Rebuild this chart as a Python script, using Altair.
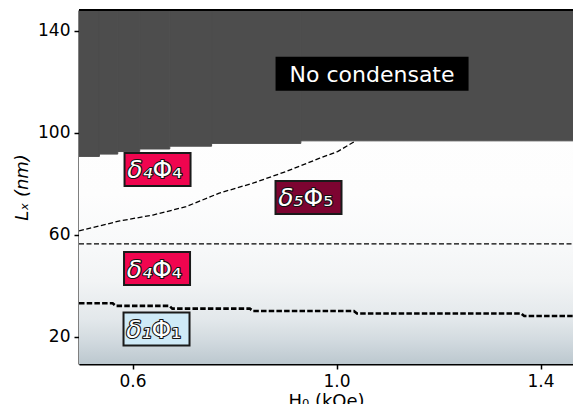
import altair as alt
import pandas as pd

# ---- data ----
x_domain = [0.495, 1.4636]
y_domain = [9.4, 148.2]

# "No condensate" region: step boundary (left edge, right edge, lower L_x)
dark_x0 = [0.495, 0.535, 0.571, 0.614, 0.673, 0.755, 0.930]
dark_x1 = [0.535, 0.571, 0.614, 0.673, 0.755, 0.930, 1.479]
dark_y = [90.8, 91.7, 92.7, 93.7, 94.8, 95.9, 96.9]

# dashed boundary curve (delta4Phi4 / delta5Phi5)
curve_x = [0.495, 0.575, 0.640, 0.705, 0.770, 0.836, 0.900, 0.967, 1.002, 1.035]
curve_y = [61.6, 65.5, 67.8, 71.1, 76.4, 80.3, 84.8, 90.1, 92.7, 96.6]

# horizontal dashed boundary
hline_x = [0.495, 1.479]
hline_y = [56.5, 56.5]

# thick dotted step boundary (delta1Phi1 / delta4Phi4)
step_x = [0.495, 0.561, 0.567, 0.672, 0.678, 0.830, 0.836, 1.034, 1.040, 1.362, 1.368, 1.479]
step_y = [33.2, 33.2, 32.2, 32.2, 31.1, 31.1, 30.2, 30.2, 29.2, 29.2, 28.2, 28.2]

# phase labels (delta part in italic, Phi part upright)
label_delta = ["δ₄", "δ₅", "δ₄", "δ₁"]
label_phi = ["Φ₄", "Φ₅", "Φ₄", "Φ₁"]
label_x = [0.649, 0.945, 0.648, 0.647]
label_y = [85.7, 74.7, 46.8, 23.1]
label_fill = ["#f0054f", "#7d0431", "#f0054f", "#cfeaf7"]

nc_text = ["No condensate"]
nc_x = [1.0696]
nc_y = [123.2]

x_ticks = [0.6, 1.0, 1.4]
y_ticks = [20, 60, 100, 140]

# ---- tables ----
bg_df = pd.DataFrame({"x": [x_domain[0]], "x2": [x_domain[1]], "y": [y_domain[0]], "y2": [y_domain[1]]})
dark_df = pd.DataFrame({"x": dark_x0, "x2": dark_x1, "y": dark_y, "y2": [y_domain[1]] * len(dark_y)})
curve_df = pd.DataFrame({"x": curve_x, "y": curve_y})
hline_df = pd.DataFrame({"x": hline_x, "y": hline_y})
step_df = pd.DataFrame({"x": step_x, "y": step_y})
lab_df = pd.DataFrame({"x": label_x, "y": label_y, "d": label_delta, "p": label_phi, "fill": label_fill})
nc_df = pd.DataFrame({"x": nc_x, "y": nc_y, "t": nc_text})

W, H = 494, 354


def X(field="x"):
    return alt.X(
        f"{field}:Q",
        scale=alt.Scale(domain=x_domain, nice=False, zero=False),
        axis=alt.Axis(values=x_ticks, format=".1f", title="H₀ (kOe)"),
    )


def Y(field="y"):
    return alt.Y(
        f"{field}:Q",
        scale=alt.Scale(domain=y_domain, nice=False, zero=False),
        axis=alt.Axis(values=y_ticks, format="d", title="Lₓ (nm)", titleFontStyle="italic"),
    )


grad = alt.Gradient(
    gradient="linear",
    stops=[
        alt.GradientStop(color="#ffffff", offset=0.0),
        alt.GradientStop(color="#fdfdfd", offset=0.52),
        alt.GradientStop(color="#f8f9fa", offset=0.66),
        alt.GradientStop(color="#f2f4f5", offset=0.765),
        alt.GradientStop(color="#e3e8eb", offset=0.873),
        alt.GradientStop(color="#d3dbe0", offset=0.93),
        alt.GradientStop(color="#bcc8cf", offset=1.0),
    ],
    x1=0, x2=0, y1=0, y2=1,
)

bg = alt.Chart(bg_df).mark_rect(color=grad).encode(x=X(), x2="x2:Q", y=Y(), y2="y2:Q")

dark = alt.Chart(dark_df).mark_rect(
    color="#4d4d4d", stroke="#4d4d4d", strokeWidth=1, clip=True
).encode(x=X(), x2="x2:Q", y=Y(), y2="y2:Q")

curve = alt.Chart(curve_df).mark_line(
    color="black", strokeWidth=1.3, strokeDash=[5, 2.5], clip=True
).encode(x=X(), y=Y())
hline = alt.Chart(hline_df).mark_line(
    color="black", strokeWidth=1.3, strokeDash=[5, 2.5], clip=True
).encode(x=X(), y=Y())
step = alt.Chart(step_df).mark_line(
    color="black", strokeWidth=2.6, strokeDash=[5.5, 2.2], clip=True
).encode(x=X(), y=Y())

boxes = alt.Chart(lab_df).mark_rect(width=66, height=33, stroke="#1a1a1a", strokeWidth=2).encode(
    x=X(), y=Y(), fill=alt.Fill("fill:N", scale=None)
)


def label_text(field, italic, align, halo):
    kw = dict(font="DejaVu Sans", fontSize=25, align=align, baseline="middle", dy=1, dx=-5)
    if italic:
        kw["fontStyle"] = "italic"
    if halo:
        kw.update(color="#111111", stroke="#111111", strokeWidth=2.2, strokeJoin="round")
    else:
        kw.update(color="white")
    return alt.Chart(lab_df).mark_text(**kw).encode(x=X(), y=Y(), text=f"{field}:N")


d_halo = label_text("d", True, "right", True)
p_halo = label_text("p", False, "left", True)
d_txt = label_text("d", True, "right", False)
p_txt = label_text("p", False, "left", False)

nc_box = alt.Chart(nc_df).mark_rect(width=193, height=34, color="black").encode(x=X(), y=Y())
nc_txt = alt.Chart(nc_df).mark_text(
    font="DejaVu Sans", fontSize=22, color="white", align="center", baseline="middle", dy=1
).encode(x=X(), y=Y(), text="t:N")

top_line = alt.Chart(bg_df).mark_rule(color="black", strokeWidth=2).encode(
    x=alt.value(0), x2=alt.value(W), y=alt.value(0)
)

chart = (
    alt.layer(bg, dark, curve, hline, step, boxes, d_halo, p_halo, d_txt, p_txt,
              nc_box, nc_txt, top_line)
    .properties(
        width=W,
        height=H,
        autosize=alt.AutoSizeParams(type="none"),
        padding={"left": 71, "top": 2, "right": 0, "bottom": 40},
    )
    .configure_view(strokeWidth=0)
    .configure_axis(
        grid=False,
        domainColor="black",
        domainWidth=2,
        tickColor="black",
        tickWidth=1.5,
        tickSize=5,
        labelFont="DejaVu Sans",
        labelFontSize=17,
        labelColor="black",
        labelPadding=4,
        titleFont="DejaVu Sans",
        titleFontSize=18,
        titleFontWeight="normal",
        titleColor="black",
    )
    .configure_axisX(titlePadding=3)
    .configure_axisY(titlePadding=6)
)

chart.save("out.html", embed_options={"renderer": "svg", "actions": False})
